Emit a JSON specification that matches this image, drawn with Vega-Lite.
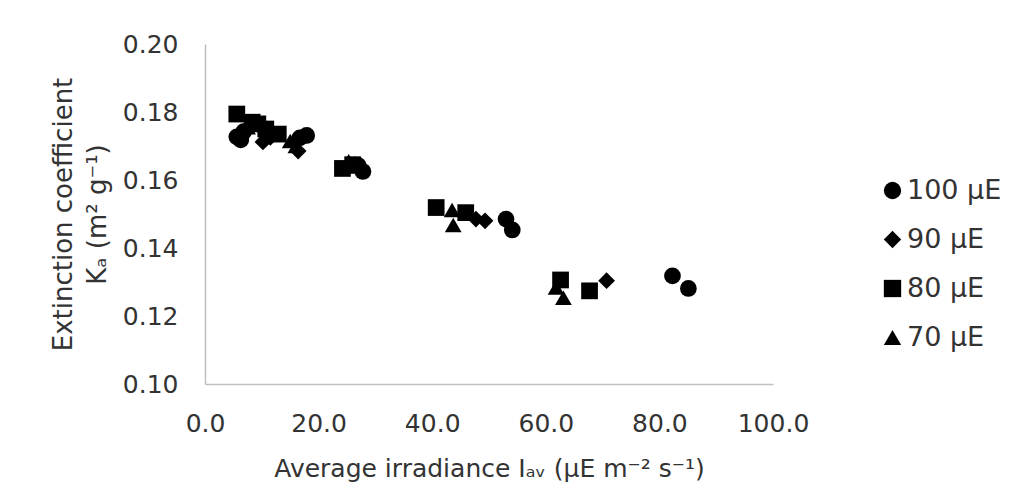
{
  "$schema": "https://vega.github.io/schema/vega-lite/v6.json",
  "width": 568,
  "height": 340,
  "autosize": {"type": "none"},
  "padding": {"left": 205, "top": 44, "right": 243, "bottom": 118},
  "background": "white",
  "config": {"view": {"stroke": null}},
  "data": {
    "values": [
      {"series": "100 μE", "irradiance": 5.6, "ka": 0.1727},
      {"series": "100 μE", "irradiance": 6.3, "ka": 0.1718},
      {"series": "100 μE", "irradiance": 6.8, "ka": 0.1742},
      {"series": "100 μE", "irradiance": 16.7, "ka": 0.1724},
      {"series": "100 μE", "irradiance": 17.9, "ka": 0.1731},
      {"series": "100 μE", "irradiance": 27.0, "ka": 0.1642},
      {"series": "100 μE", "irradiance": 27.8, "ka": 0.1625},
      {"series": "100 μE", "irradiance": 53.0, "ka": 0.1485},
      {"series": "100 μE", "irradiance": 54.1, "ka": 0.1453},
      {"series": "100 μE", "irradiance": 82.3, "ka": 0.1318},
      {"series": "100 μE", "irradiance": 85.1, "ka": 0.1281},
      {"series": "90 μE", "irradiance": 7.0, "ka": 0.1745},
      {"series": "90 μE", "irradiance": 10.2, "ka": 0.1712},
      {"series": "90 μE", "irradiance": 11.5, "ka": 0.1725},
      {"series": "90 μE", "irradiance": 16.4, "ka": 0.1685},
      {"series": "90 μE", "irradiance": 26.4, "ka": 0.1645},
      {"series": "90 μE", "irradiance": 47.7, "ka": 0.1485},
      {"series": "90 μE", "irradiance": 49.3, "ka": 0.1480},
      {"series": "90 μE", "irradiance": 70.7, "ka": 0.1304},
      {"series": "80 μE", "irradiance": 5.6, "ka": 0.1794},
      {"series": "80 μE", "irradiance": 8.3, "ka": 0.1770},
      {"series": "80 μE", "irradiance": 9.3, "ka": 0.1765},
      {"series": "80 μE", "irradiance": 10.7, "ka": 0.1750},
      {"series": "80 μE", "irradiance": 12.9, "ka": 0.1735},
      {"series": "80 μE", "irradiance": 24.2, "ka": 0.1634},
      {"series": "80 μE", "irradiance": 26.0, "ka": 0.1645},
      {"series": "80 μE", "irradiance": 40.7, "ka": 0.1519},
      {"series": "80 μE", "irradiance": 45.9, "ka": 0.1504},
      {"series": "80 μE", "irradiance": 62.6, "ka": 0.1306},
      {"series": "80 μE", "irradiance": 67.7, "ka": 0.1274},
      {"series": "70 μE", "irradiance": 7.5, "ka": 0.1755},
      {"series": "70 μE", "irradiance": 11.5, "ka": 0.1740},
      {"series": "70 μE", "irradiance": 15.0, "ka": 0.1715},
      {"series": "70 μE", "irradiance": 16.0, "ka": 0.1700},
      {"series": "70 μE", "irradiance": 25.3, "ka": 0.1655},
      {"series": "70 μE", "irradiance": 25.8, "ka": 0.1640},
      {"series": "70 μE", "irradiance": 43.5, "ka": 0.1512},
      {"series": "70 μE", "irradiance": 43.7, "ka": 0.1468},
      {"series": "70 μE", "irradiance": 61.8, "ka": 0.1284},
      {"series": "70 μE", "irradiance": 63.1, "ka": 0.1254}
    ]
  },
  "mark": {"type": "point", "filled": true, "size": 280, "opacity": 1, "color": "#000000"},
  "encoding": {
    "x": {
      "field": "irradiance",
      "type": "quantitative",
      "scale": {"domain": [0, 100], "nice": false, "zero": false},
      "axis": {
        "title": "Average irradiance Iₐᵥ (μE m⁻² s⁻¹)",
        "values": [0, 20, 40, 60, 80, 100],
        "format": ".1f",
        "grid": false,
        "ticks": false,
        "tickSize": 0,
        "domainColor": "#bfbfbf",
        "domainWidth": 1.5,
        "labelFont": "DejaVu Sans",
        "labelFontSize": 25,
        "labelColor": "#333333",
        "labelPadding": 27,
        "labelFlush": false,
        "labelOverlap": false,
        "titleFont": "DejaVu Sans",
        "titleFontSize": 25,
        "titleFontWeight": "normal",
        "titleColor": "#333333",
        "titlePadding": 20
      }
    },
    "y": {
      "field": "ka",
      "type": "quantitative",
      "scale": {"domain": [0.1, 0.2], "nice": false, "zero": false},
      "axis": {
        "title": ["Extinction coefficient", "Kₐ (m² g⁻¹)"],
        "values": [0.1, 0.12, 0.14, 0.16, 0.18, 0.2],
        "format": ".2f",
        "grid": false,
        "ticks": false,
        "tickSize": 0,
        "domainColor": "#bfbfbf",
        "domainWidth": 1.5,
        "labelFont": "DejaVu Sans",
        "labelFontSize": 25,
        "labelColor": "#333333",
        "labelPadding": 27,
        "labelFlush": false,
        "labelOverlap": false,
        "titleFont": "DejaVu Sans",
        "titleFontSize": 26,
        "titleFontWeight": "normal",
        "titleColor": "#333333",
        "titleLineHeight": 34,
        "titlePadding": 12
      }
    },
    "shape": {
      "field": "series",
      "type": "nominal",
      "scale": {"domain": ["100 μE", "90 μE", "80 μE", "70 μE"], "range": ["circle", "diamond", "square", "triangle-up"]},
      "legend": {
        "orient": "none",
        "legendX": 674,
        "legendY": 133,
        "title": null,
        "padding": 0,
        "symbolSize": 300,
        "symbolFillColor": "#000000",
        "symbolStrokeColor": "#000000",
        "symbolStrokeWidth": 0,
        "labelFont": "DejaVu Sans",
        "labelFontSize": 27,
        "labelColor": "#333333",
        "labelOffset": 1,
        "rowPadding": 21
      }
    }
  }
}
